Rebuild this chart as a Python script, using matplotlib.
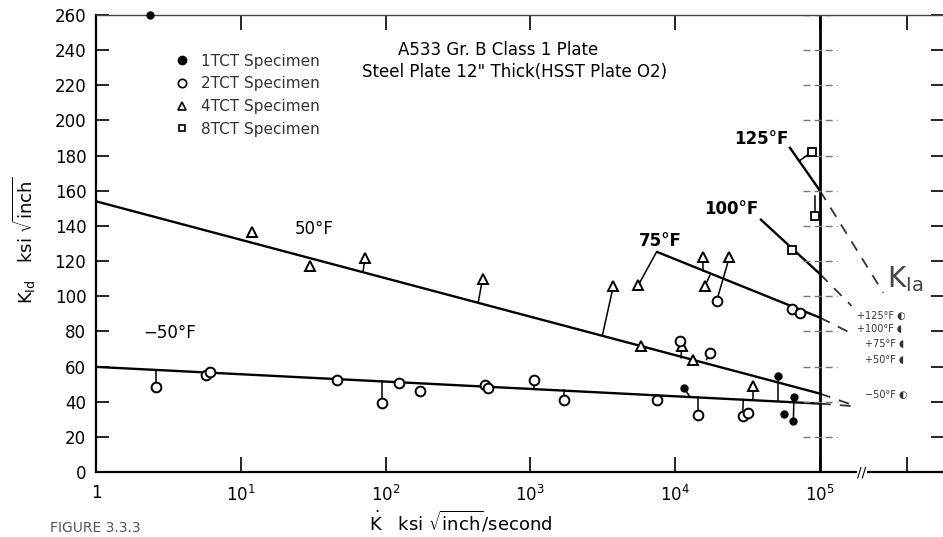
import numpy as np
import matplotlib
matplotlib.use('Agg')
import matplotlib.pyplot as plt
from matplotlib.lines import Line2D
from matplotlib.ticker import FixedLocator, NullLocator

nan = np.nan

# exponents of K-dot (log10), K_Id values in ksi sqrt(inch)
# 4TCT specimens (triangles) + where their tick joins a line
tri_lx = [1.075, 1.478, 1.858, 2.67, 3.573, 3.745, 3.764, 4.045, 4.12, 4.194, 4.206, 4.374, 4.535]
tri_y = [136.7, 117.3, 122.0, 110.0, 105.9, 106.3, 71.6, 71.6, 64.0, 122.1, 105.9, 122.1, 48.8]
tri_base_lx = [nan, nan, 1.845, 2.64, 3.497, 3.872, nan, 4.04, nan, 4.194, 4.24, 4.286, 4.535]
tri_base_y = [nan, nan, 114.5, 96.7, 77.7, 125.3, nan, 65.0, nan, 114.6, 112.0, 97.3, 41.0]

# 2TCT specimens (open circles)
cir_lx = [0.414, 0.76, 0.79, 1.667, 1.973, 2.09, 2.238, 2.686, 2.705, 3.025, 3.232, 3.872,
          4.16, 4.466, 4.505, 4.24, 4.286, 4.804, 4.862, 4.035]
cir_y = [48.2, 55.4, 56.7, 52.6, 39.2, 50.5, 46.3, 49.7, 47.8, 52.2, 41.0, 40.7,
         32.6, 32.0, 33.5, 67.8, 97.3, 92.6, 90.7, 74.5]
cir_base_lx = [0.414, nan, nan, nan, 1.973, nan, nan, nan, nan, 3.025, 3.232, 3.872,
               4.16, 4.47, nan, 4.217, nan, nan, nan, nan]
cir_base_y = [58.3, nan, nan, nan, 51.7, nan, nan, nan, nan, 47.3, 46.4, 43.7,
              42.5, 41.2, nan, 64.0, nan, nan, nan, nan]

# 1TCT specimens (filled)
dot_lx = [0.37, 4.06, 4.712, 4.754, 4.816, 4.82]
dot_y = [260, 47.8, 54.5, 33.1, 28.8, 42.7]
dot_base_lx = [nan, 4.10, 4.712, nan, 4.82, nan]
dot_base_y = [nan, 43.0, 40.2, nan, 42.7, nan]

# 8TCT specimens (squares)
sq_lx = [4.81, 4.943, 4.965]
sq_y = [126.5, 182.0, 145.9]
sq_base_lx = [nan, 4.857, 4.965]
sq_base_y = [nan, 177.0, 157.3]

# fitted lines per temperature
line_lx = {'50': [0, 5], '-50': [0, 5], '75': [3.872, 5], '100': [4.586, 5], '125': [4.788, 5]}
line_y = {'50': [154, 44.6], '-50': [59.8, 38.9], '75': [125.3, 87.8], '100': [144, 112.6], '125': [185, 160]}

# dashed extension towards K_Ia
kia_lx = {'125': [5.0, 5.437], '100': [5.0, 5.218], '75': [5.0, 5.207], '50': [5.0, 5.253], '-50': [5.0, 5.253]}
kia_y = {'125': [160, 102], '100': [112.6, 94.5], '75': [87.8, 79.3], '50': [44.6, 37.3], '-50': [38.9, 37.3]}

yticks = list(range(0, 261, 20))
xtick_exp = [0, 1, 2, 3, 4, 5]
xtick_labels = ['1', r'$10^1$', r'$10^2$', r'$10^3$', r'$10^4$', r'$10^5$']


def p10(a):
    return np.power(10.0, np.asarray(a, dtype=float))


fig = plt.figure(figsize=(9.43, 5.37), dpi=100)
ax = fig.add_axes([96 / 943, 65 / 537, 847 / 943, 457 / 537])
ax.set_xscale('log')
ax.set_xlim(1, 10 ** (847 / 144.8))
ax.set_ylim(0, 260)

# lines
for k in line_lx:
    ax.plot(p10(line_lx[k]), line_y[k], color='black', lw=1.7, solid_capstyle='butt')
for k in kia_lx:
    ax.plot(p10(kia_lx[k]), kia_y[k], color='#333333', lw=1.3, dashes=(6, 5))

ax.axvline(1e5, color='black', lw=2)
ax.hlines(yticks[1:], p10(4.88), p10(5.12), color='#777777', lw=1, linestyles=(0, (5, 3)))


def draw_ticks(lx, y, blx, by):
    for a, b, c, d in zip(lx, y, blx, by):
        if not np.isnan(c):
            ax.plot(p10([a, c]), [b, d], color='black', lw=1.1, zorder=2)


draw_ticks(tri_lx, tri_y, tri_base_lx, tri_base_y)
draw_ticks(cir_lx, cir_y, cir_base_lx, cir_base_y)
draw_ticks(dot_lx, dot_y, dot_base_lx, dot_base_y)
draw_ticks(sq_lx, sq_y, sq_base_lx, sq_base_y)

ax.plot(p10(tri_lx), tri_y, ls='none', marker='^', ms=7, mfc='white', mec='black', mew=1.4, zorder=3)
ax.plot(p10(cir_lx), cir_y, ls='none', marker='o', ms=7, mfc='white', mec='black', mew=1.4, zorder=3)
ax.plot(p10(dot_lx), dot_y, ls='none', marker='o', ms=5, color='black', zorder=3, clip_on=False)
ax.plot(p10(sq_lx), sq_y, ls='none', marker='s', ms=6, mfc='white', mec='black', mew=1.3, zorder=3)

# axes styling
for s in ['left', 'bottom']:
    ax.spines[s].set_linewidth(1.6)
ax.spines['top'].set_linewidth(1.0)
ax.spines['top'].set_color('#444444')
ax.spines['right'].set_visible(False)

ax.xaxis.set_major_locator(FixedLocator(list(p10(xtick_exp)) + [10 ** 5.6]))
ax.xaxis.set_minor_locator(NullLocator())
ax.set_xticklabels(xtick_labels + [''])
ax.set_yticks(yticks)
ax.tick_params(axis='x', which='major', direction='in', length=11, width=1.2,
               top=True, labelsize=12, pad=9)
ax.tick_params(axis='y', direction='in', length=9, width=1.2, right=True, labelsize=12, pad=7)

ax.text(10 ** 5.29, 0, '//', ha='center', va='center', fontsize=10,
        bbox=dict(facecolor='white', edgecolor='none', pad=0.5))

# legend
handles = [
    Line2D([], [], ls='none', marker='o', ms=6, color='black'),
    Line2D([], [], ls='none', marker='o', ms=6, mfc='white', mec='black', mew=1.2),
    Line2D([], [], ls='none', marker='^', ms=6, mfc='white', mec='black', mew=1.2),
    Line2D([], [], ls='none', marker='s', ms=5, mfc='white', mec='black', mew=1.2),
]
labels = ['1TCT Specimen', '2TCT Specimen', '4TCT Specimen', '8TCT Specimen']
leg = ax.legend(handles, labels, loc='upper left', bbox_to_anchor=(0.084, 0.932), frameon=False,
                borderpad=0, handlelength=1.0, handletextpad=0.7, labelspacing=0.5, fontsize=11)
for t in leg.get_texts():
    t.set_color('#333333')

# temperature labels
ax.text(10 ** 1.505, 138, '50°F', ha='center', va='center', fontsize=12)
ax.text(10 ** 0.325, 79, '\u221250°F', ha='left', va='center', fontsize=12)
ax.text(10 ** 3.90, 131.4, '75°F', ha='center', va='center', fontsize=12, fontweight='bold')
ax.text(10 ** 4.386, 149.7, '100°F', ha='center', va='center', fontsize=12, fontweight='bold')
ax.text(10 ** 4.596, 189.7, '125°F', ha='center', va='center', fontsize=12, fontweight='bold')

ax.text(10 ** 5.587, 110, r'K$_{\mathrm{Ia}}$', ha='center', va='center', fontsize=20, color='#444444')
for lbl, yy, xx in [('+125°F ◐', 88.6, 5.255), ('+100°F ◖', 81.1, 5.255), ('+75°F ◖', 72.6, 5.311),
                    ('+50°F ◖', 64.0, 5.311), ('\u221250°F ◐', 44.0, 5.311)]:
    ax.text(10 ** xx, yy, lbl, ha='left', va='center', fontsize=7, color='#333333')

# titles and axis labels
fig.text(498 / 943, 1 - 50 / 537, 'A533 Gr. B Class 1 Plate', ha='center', va='center', fontsize=12)
fig.text(515 / 943, 1 - 72 / 537, 'Steel Plate 12" Thick(HSST Plate O2)', ha='center', va='center',
         fontsize=12)
fig.text(24 / 943, 1 - 240 / 537, r'K$_{\mathrm{Id}}$   ksi $\sqrt{\mathrm{inch}}$', rotation=90,
         ha='center', va='center', fontsize=13)
fig.text(461 / 943, 1 - 522 / 537, r'$\dot{\mathrm{K}}$   ksi $\sqrt{\mathrm{inch}}$/second',
         ha='center', va='center', fontsize=13)
fig.text(50 / 943, 2 / 537, 'FIGURE 3.3.3', ha='left', va='bottom', fontsize=10, color='#555555')

fig.savefig('out.png', dpi=100)
